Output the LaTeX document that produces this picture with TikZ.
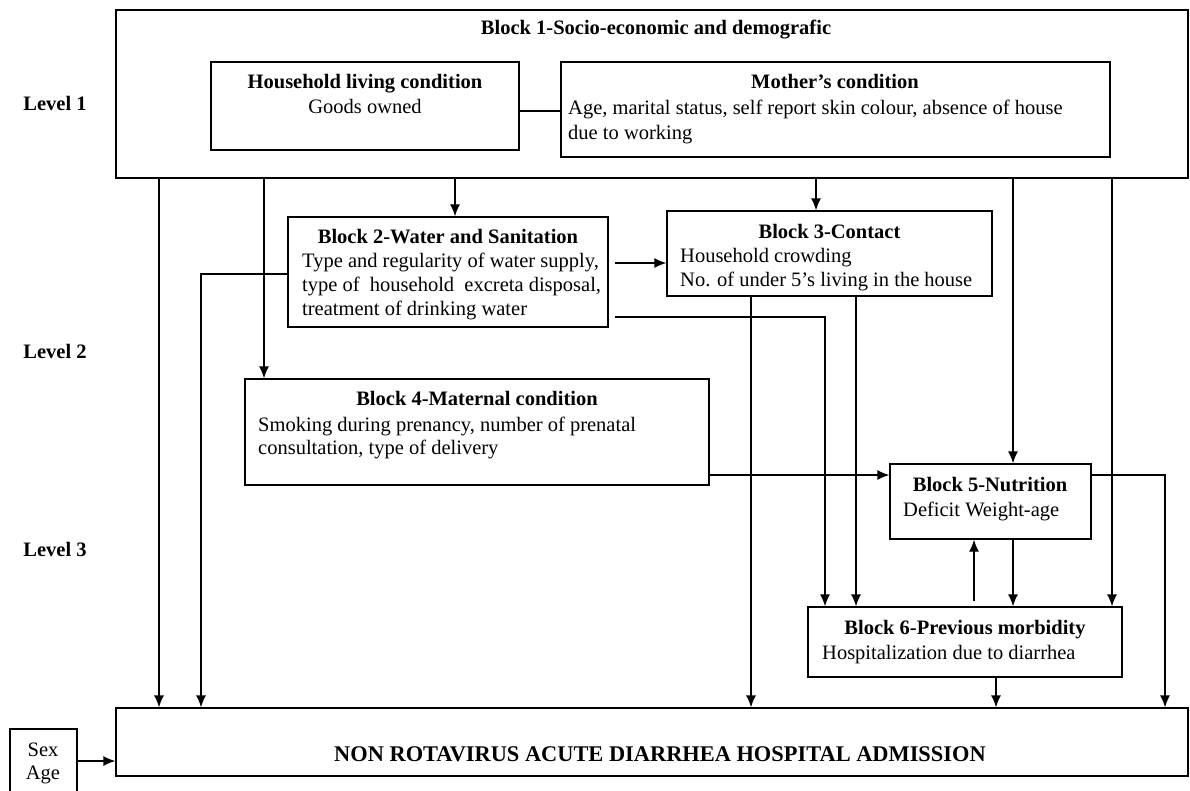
\documentclass[tikz,border=0pt]{standalone}
\usepackage{fontspec}
\setmainfont{Liberation Serif}
\usetikzlibrary{arrows.meta}
\tikzset{
	box/.style={draw, line width=1.3pt, inner sep=0pt},
	txt/.style={inner sep=0pt, font=\fontsize{20.5}{24}\selectfont, text height=15pt, text depth=3pt},
	ttl/.style={txt, font=\fontsize{20.5}{24}\selectfont\bfseries},
	line/.style={line width=1.3pt},
	arr/.style={line, -{Latex[length=12pt, width=10pt]}}
}

\begin{document}
\begin{tikzpicture}[x=1pt, y=-1pt]
	\clip (0,0) rectangle (1190,790);

	% --- levels ---
	\node[ttl] (lev1) at (55,104) {Level 1};
	\node[ttl] (lev2) at (55,352) {Level 2};
	\node[ttl] (lev3) at (55,550) {Level 3};

	% --- block 1 ---
	\node[box, minimum width=1072pt, minimum height=168pt] (blk1) at (652,94) {};
	\node[ttl] (blk1t) at (656,28) {Block 1-Socio-economic and demografic};

	\node[box, minimum width=308pt, minimum height=88pt] (hlc) at (365,106) {};
	\node[ttl] (hlct) at (365,82) {Household living condition};
	\node[txt] (hlc1) at (365,107) {Goods owned};

	\node[box, minimum width=549pt, minimum height=95pt] (mc) at (835.5,109.5) {};
	\node[ttl] (mct) at (835,82) {Mother’s condition};
	\node[txt, anchor=west] (mc1) at (568,108) {Age, marital status, self report skin colour, absence of house};
	\node[txt, anchor=west] (mc2) at (568,133) {due to working};

	% --- block 2 ---
	\node[box, minimum width=320pt, minimum height=110pt] (b2) at (448,272) {};
	\node[ttl] (b2t) at (448,237) {Block 2-Water and Sanitation};
	\node[txt, anchor=west] (b21) at (302,261) {Type and regularity of water supply,};
	\node[txt, anchor=west] (b22) at (302,285) {type of\ \ household\ \ excreta disposal,};
	\node[txt, anchor=west] (b23) at (302,309) {treatment of drinking water};

	% --- block 3 ---
	\node[box, minimum width=325pt, minimum height=85pt] (b3) at (829.5,253.5) {};
	\node[ttl] (b3t) at (829.5,232) {Block 3-Contact};
	\node[txt, anchor=west] (b31) at (680,256) {Household crowding};
	\node[txt, anchor=west] (b32) at (680,280) {No. of under 5’s living in the house};

	% --- block 4 ---
	\node[box, minimum width=464pt, minimum height=106pt] (b4) at (477,432) {};
	\node[ttl] (b4t) at (477,399) {Block 4-Maternal condition};
	\node[txt, anchor=west] (b41) at (258,425) {Smoking during prenancy, number of prenatal};
	\node[txt, anchor=west] (b42) at (258,448) {consultation, type of delivery};

	% --- block 5 ---
	\node[box, minimum width=201pt, minimum height=75pt] (b5) at (990.5,501.5) {};
	\node[ttl] (b5t) at (990,485) {Block 5-Nutrition};
	\node[txt, anchor=west] (b51) at (903,510) {Deficit Weight-age};

	% --- block 6 ---
	\node[box, minimum width=314pt, minimum height=70pt] (b6) at (965,642) {};
	\node[ttl] (b6t) at (965,628) {Block 6-Previous morbidity};
	\node[txt, anchor=west] (b61) at (822,653) {Hospitalization due to diarrhea};

	% --- outcome ---
	\node[box, minimum width=1072pt, minimum height=68pt] (out) at (652,742) {};
	\node[ttl, font=\fontsize{22.4}{24}\selectfont\bfseries] (outt) at (660,755) {NON ROTAVIRUS ACUTE DIARRHEA HOSPITAL ADMISSION};

	\node[box, minimum width=67pt, minimum height=71pt] (sexage) at (43.5,764.5) {};
	\node[txt] (sex) at (43,750) {Sex};
	\node[txt] (age) at (43,773) {Age};

	% --- connectors ---
	\draw[line] (hlc.east |- 0,111) -- (mc.west |- 0,111);

	\draw[arr] (159,0 |- blk1.south) -- (159,0 |- out.north);
	\draw[arr] (264,0 |- blk1.south) -- (264,0 |- b4.north);
	\draw[arr] (455,0 |- blk1.south) -- (455,0 |- b2.north);
	\draw[arr] (816,0 |- blk1.south) -- (816,0 |- b3.north);
	\draw[arr] (1013,0 |- blk1.south) -- (1013,0 |- b5.north);
	\draw[arr] (1112,0 |- blk1.south) -- (1112,0 |- b6.north);

	\draw[arr] (b2.west |- 0,274) -| (201,0 |- out.north);
	\draw[arr, shorten <=6pt] (b2.east |- 0,263) -- (b3.west |- 0,263);
	\draw[arr, shorten <=6pt] (b2.east |- 0,317) -| (825,0 |- b6.north);

	\draw[arr] (751,0 |- b3.south) -- (751,0 |- out.north);
	\draw[arr] (856,0 |- b3.south) -- (856,0 |- b6.north);

	\draw[arr] (b4.east |- 0,475) -- (b5.west |- 0,475);
	\draw[arr] (b5.east |- 0,475) -| (1165,0 |- out.north);

	\draw[arr] (1013,0 |- b5.south) -- (1013,0 |- b6.north);
	\draw[arr, shorten <=5pt] (974,0 |- b6.north) -- (974,0 |- b5.south);
	\draw[arr] (996,0 |- b6.south) -- (996,0 |- out.north);

	\draw[arr] (sexage.east |- 0,761) -- (out.west |- 0,761);

\end{tikzpicture}
\end{document}
